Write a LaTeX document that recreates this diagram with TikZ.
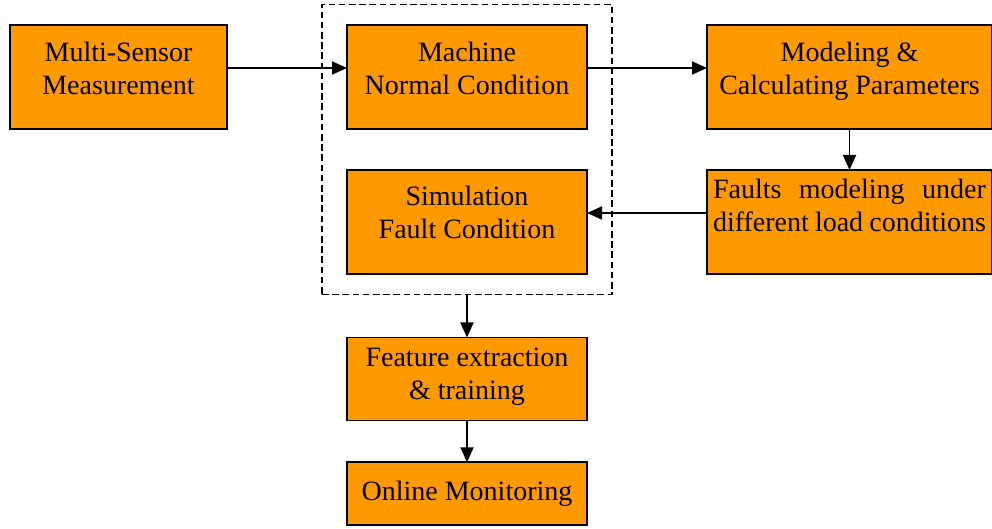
\documentclass[tikz,border=0pt]{standalone}
\usepackage{fontspec}
\setmainfont{Liberation Serif}
\usetikzlibrary{positioning,fit,arrows.meta}
\definecolor{boxorange}{RGB}{255,153,0}
\tikzset{
  block/.style={draw, line width=0.9pt, fill=boxorange, align=center, inner sep=0pt, outer sep=0pt,
    minimum width=120pt, minimum height=52pt, text height=26.5pt, text depth=8.5pt, font=\fontsize{14}{16.5}\selectfont},
  group/.style={draw, line width=0.9pt, dash pattern=on 3.3pt off 1.8pt, inner xsep=12.5pt, inner ysep=10.25pt, outer sep=0pt},
  arr/.style={-{Triangle[length=7.5pt,width=6.5pt]}, line width=0.9pt}
}
\begin{document}
\begin{tikzpicture}
  \useasboundingbox (0,0) rectangle (496pt,-264.5pt);
  \node[block, minimum width=108.5pt] (ms) at (59.25pt,-38.5pt) {Multi-Sensor\\Measurement};
  \node[block, right=60pt of ms] (mn) {Machine\\Normal Condition};
  \node[block, minimum width=142.5pt, right=60pt of mn] (mc) {Modeling \&\\Calculating Parameters};
  \node[block, text depth=9.5pt, below=20.5pt of mn] (sf) {Simulation\\Fault Condition};
  \node[block, minimum width=142.5pt, text width=136.5pt, align=justify, text height=10pt, text depth=33pt, below=20.5pt of mc] (fm) {Faults modeling under different load conditions};
  \node[group, fit=(mn)(sf)] (g) {};
  \node[block, minimum height=41.5pt, text depth=5.8pt, below=21.5pt of g] (fe) {Feature extraction\\\& training};
  \node[block, minimum height=31.5pt, text height=10pt, text depth=3.6pt, below=20.9pt of fe] (om) {Online Monitoring};
  \draw[arr] ([yshift=4.5pt]ms.east) -- ([yshift=4.5pt]mn.west);
  \draw[arr] ([yshift=4.5pt]mn.east) -- ([yshift=4.5pt]mc.west);
  \draw[arr] (mc.south) -- (fm.north);
  \draw[arr] ([yshift=4.5pt]fm.west) -- ([yshift=4.5pt]sf.east);
  \draw[arr] (g.south) -- (fe.north);
  \draw[arr] (fe.south) -- (om.north);
\end{tikzpicture}
\end{document}
